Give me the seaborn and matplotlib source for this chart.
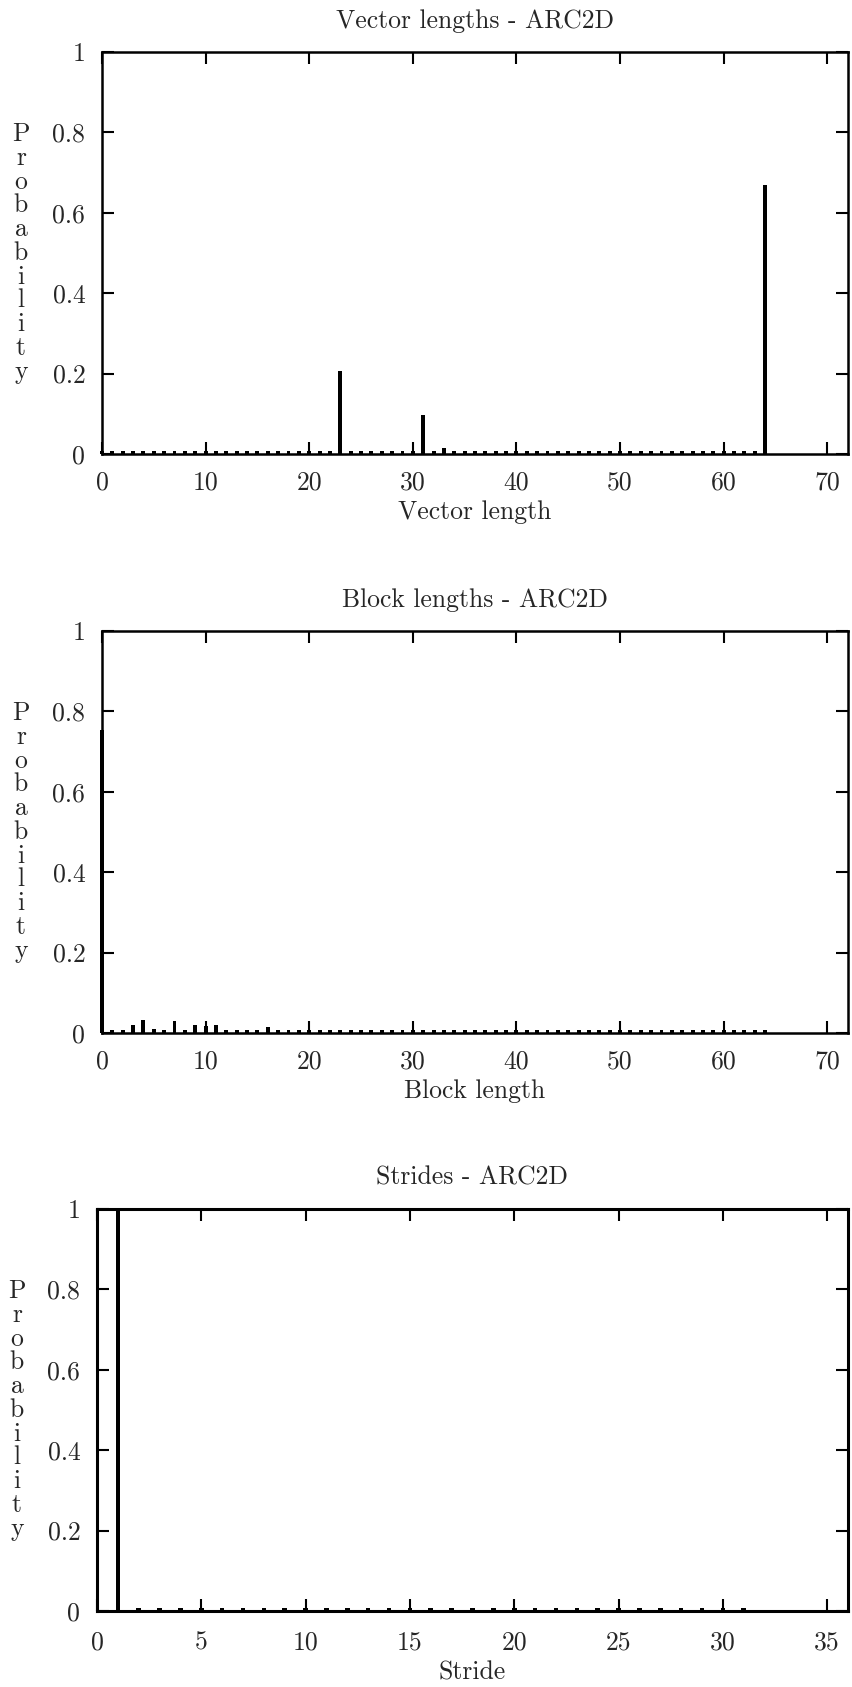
import matplotlib
matplotlib.use("Agg")
import matplotlib.pyplot as plt
import seaborn as sns
import numpy as np
import pandas as pd

# ---------------- data ----------------
vec_lengths = list(range(0, 65))
vec_probs = [0.008] * 65
vec_probs[23] = 0.206
vec_probs[31] = 0.097
vec_probs[33] = 0.016
vec_probs[64] = 0.670

blk_lengths = list(range(0, 65))
blk_probs = [0.008] * 65
blk_probs[0] = 0.754
blk_probs[3] = 0.021
blk_probs[4] = 0.033
blk_probs[5] = 0.011
blk_probs[7] = 0.031
blk_probs[9] = 0.021
blk_probs[10] = 0.017
blk_probs[11] = 0.021
blk_probs[16] = 0.014

strides = list(range(1, 32))
stride_probs = [0.008] * 31
stride_probs[0] = 1.0

titles = ["Vector lengths - ARC2D", "Block lengths - ARC2D", "Strides - ARC2D"]
xlabels = ["Vector length", "Block length", "Stride"]
ylabel = "Probability"
y_ticks = [0, 0.2, 0.4, 0.6, 0.8, 1]
y_ticklabels = ["0", "0.2", "0.4", "0.6", "0.8", "1"]
x_ticks_len = [0, 10, 20, 30, 40, 50, 60, 70]
x_ticks_stride = [0, 5, 10, 15, 20, 25, 30, 35]

# ---------------- style ----------------
sns.set_theme(style="ticks")
plt.rcParams["font.family"] = ["cmr10", "DejaVu Serif"]
plt.rcParams["axes.formatter.use_mathtext"] = True
plt.rcParams["mathtext.fontset"] = "cm"

W, H = 852, 1687
fig = plt.figure(figsize=(W / 100, H / 100), dpi=100)

FS = 18.5

panels = [
    dict(x=vec_lengths, y=vec_probs, xlim=(0, 72), xt=x_ticks_len, width=0.38,
         box=(102, 52, 848, 454), spw=1.8, ylx=21, xpad=12, lpad=4),
    dict(x=blk_lengths, y=blk_probs, xlim=(0, 72), xt=x_ticks_len, width=0.38,
         box=(102, 631, 848, 1033), spw=1.8, ylx=21, xpad=12, lpad=4),
    dict(x=strides, y=stride_probs, xlim=(0, 36), xt=x_ticks_stride, width=0.22,
         box=(97, 1209, 848, 1611), spw=2.2, ylx=17, xpad=14, lpad=5),
]

for i, p in enumerate(panels):
    l, t, r, b = p["box"]
    ax = fig.add_axes([l / W, 1 - b / H, (r - l) / W, (b - t) / H])
    df = pd.DataFrame({"x": p["x"], "y": p["y"]})
    sns.barplot(data=df, x="x", y="y", native_scale=True, width=p["width"],
                color="black", linewidth=0, saturation=1, errorbar=None, ax=ax)
    for patch in ax.patches:
        patch.set_clip_on(False)
        patch.set_zorder(3)
    ax.set_xlim(*p["xlim"])
    ax.set_ylim(0, 1)
    ax.set_xticks(p["xt"])
    ax.set_xticklabels([str(v) for v in p["xt"]], fontsize=FS)
    ax.set_yticks(y_ticks)
    ax.set_yticklabels(y_ticklabels, fontsize=FS)
    ax.tick_params(axis="both", which="major", direction="in", length=8.6,
                   width=1.5, color="black", top=True, right=True)
    ax.tick_params(axis="x", pad=p["xpad"])
    ax.tick_params(axis="y", pad=12)
    ax.minorticks_off()
    for s in ax.spines.values():
        s.set_linewidth(p["spw"])
        s.set_color("black")
        s.set_visible(True)
    ax.set_xlabel(xlabels[i], fontsize=FS, labelpad=p["lpad"])
    ax.set_ylabel("")
    ax.text(0.5, 1 + 31 / 402, titles[i], transform=ax.transAxes,
            ha="center", va="center", fontsize=FS)
    fig.text(p["ylx"] / W, 1 - ((t + b) / 2) / H, "\n".join(ylabel),
             ha="center", va="center", fontsize=FS, linespacing=1.0)
    ax.set_facecolor("white")

fig.savefig("out.png", dpi=100, facecolor="white")
